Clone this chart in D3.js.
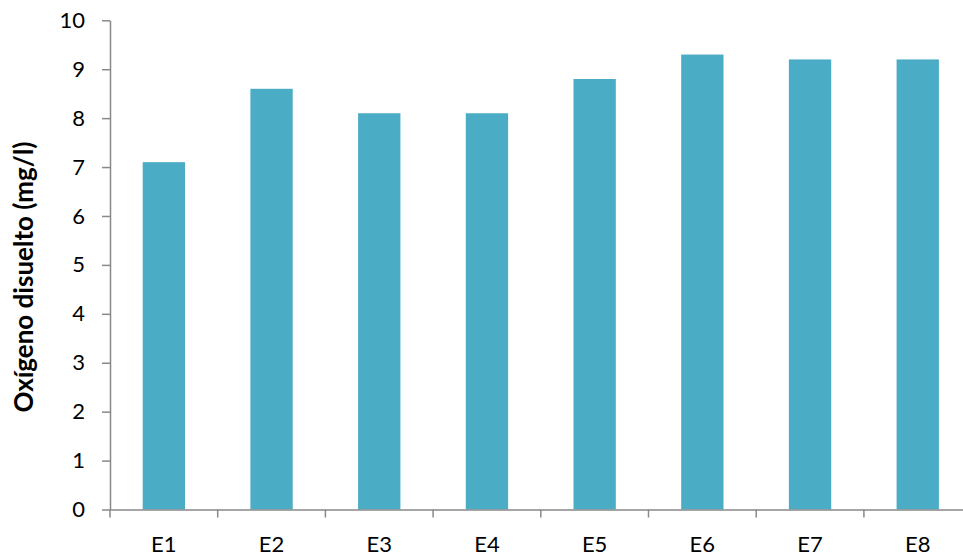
<!DOCTYPE html>
<html><head><meta charset="utf-8">
<script src="https://cdn.jsdelivr.net/npm/d3@7"></script>
<style>
html,body{margin:0;padding:0;background:#fff;}
svg{display:block;font-family:Lato,"Open Sans",sans-serif;}
</style></head>
<body>
<svg id="chart" width="963" height="556"></svg>
<script>
const categories = ["E1","E2","E3","E4","E5","E6","E7","E8"];
const values = [7.1, 8.6, 8.1, 8.1, 8.8, 9.3, 9.2, 9.2];
const yTicks = [0,1,2,3,4,5,6,7,8,9,10];
const yTitle = "Oxígeno disuelto (mg/l)";

(function () {
const svg = d3.select("#chart");
const mLeft = 110, mRight = 971.6, mTop = 20.3, mBottom = 509.5;
const axisColor = "#898989";

const x = d3.scaleBand().domain(categories).range([mLeft, mRight]).paddingInner(0).paddingOuter(0);
const y = d3.scaleLinear().domain([0, 10]).range([mBottom, mTop]);
const barW = x.bandwidth() * 0.393;

svg.append("g").selectAll("rect").data(categories).join("rect")
  .attr("x", (d) => x(d) + (x.bandwidth() - barW) / 2)
  .attr("width", barW)
  .attr("y", (d, i) => y(values[i]))
  .attr("height", (d, i) => y(0) - y(values[i]))
  .attr("fill", "#4BACC6");

// Y axis
const yAxis = svg.append("g").attr("transform", `translate(${mLeft},0)`)
  .call(d3.axisLeft(y).tickValues(yTicks).tickSize(8).tickSizeOuter(0).tickPadding(17).tickFormat(d3.format("d")));
yAxis.selectAll("path,line").attr("stroke", axisColor).attr("stroke-width", 1.5);
yAxis.selectAll("text").attr("font-size", 22).attr("fill", "#000").attr("font-family", "Lato, 'Open Sans', sans-serif");

// X axis
const xAxis = svg.append("g").attr("transform", `translate(0,${mBottom})`)
  .call(d3.axisBottom(x).tickSize(0).tickSizeOuter(0).tickPadding(27));
xAxis.select("path").attr("stroke", axisColor).attr("stroke-width", 1.5);
xAxis.selectAll("text").attr("font-size", 22).attr("fill", "#000").attr("font-family", "Lato, 'Open Sans', sans-serif");
const bounds = categories.map(c => x(c)).concat([x.range()[1]]);
xAxis.selectAll("line.bound").data(bounds).join("line").attr("class","bound")
  .attr("x1", d => d).attr("x2", d => d).attr("y1", 0).attr("y2", 8)
  .attr("stroke", axisColor).attr("stroke-width", 1.5);

// Y title
svg.append("text")
  .attr("transform", `translate(33,277) rotate(-90)`)
  .attr("text-anchor", "middle")
  .attr("font-size", 26).attr("font-weight", "bold")
  .attr("font-family", "Lato, 'Open Sans', sans-serif")
  .text(yTitle);
})();
</script>
</body></html>
